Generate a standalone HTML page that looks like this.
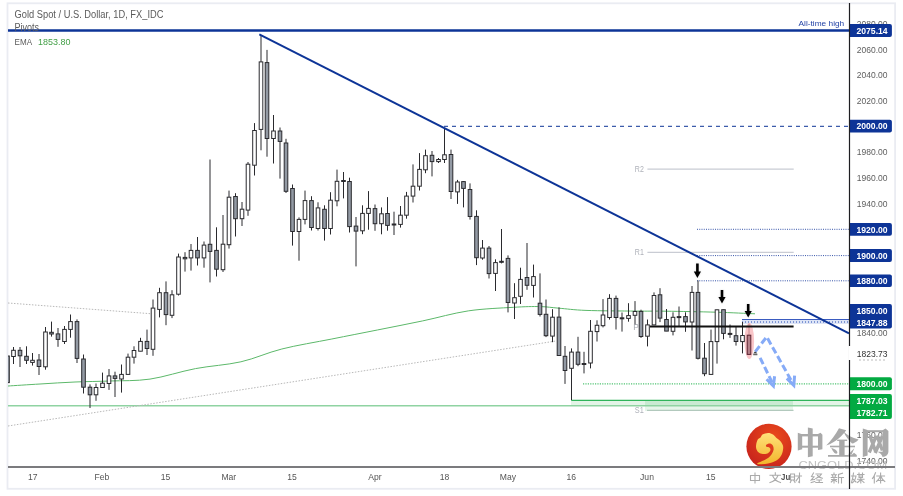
<!DOCTYPE html><html><head><meta charset="utf-8"><style>html,body{margin:0;padding:0;background:#fff;}svg{display:block;will-change:transform;}</style></head><body>
<svg width="903" height="496" viewBox="0 0 903 496" font-family='"Liberation Sans", sans-serif'>
<defs><clipPath id="ca"><rect x="8" y="4" width="841" height="462"/></clipPath><filter id="sh" x="-1" y="-1" width="3" height="3"><feGaussianBlur stdDeviation="1.2"/></filter><radialGradient id="rg" cx="0.6" cy="0.3" r="0.8"><stop offset="0" stop-color="#ea4a1c"/><stop offset="1" stop-color="#c41f1c"/></radialGradient><linearGradient id="yg" x1="0" y1="0" x2="0" y2="1"><stop offset="0" stop-color="#ffe27a"/><stop offset="1" stop-color="#f3b52c"/></linearGradient></defs>
<rect x="7.5" y="3.3" width="887.6" height="485.5" fill="none" stroke="#eaecf2" stroke-width="1.8"/>
<g clip-path="url(#ca)">
<rect x="571" y="400.5" width="278" height="5" fill="#e3f4e7"/>
<rect x="645" y="400.5" width="148" height="6" fill="#c9ead2"/>
<rect x="645" y="406" width="148" height="5" fill="#e6f5ea"/>
<line x1="647" y1="410.3" x2="793.5" y2="410.3" stroke="#b2c9bd" stroke-width="1.2"/>
<line x1="8" y1="405.8" x2="849" y2="405.8" stroke="#8fd3a2" stroke-width="1.5"/>
<line x1="571.3" y1="400.3" x2="849" y2="400.3" stroke="#2fb45a" stroke-width="1.2"/>
<line x1="583" y1="383.8" x2="849" y2="383.8" stroke="#52c474" stroke-width="1.2" stroke-dasharray="1.2 1.2"/>
<line x1="8" y1="303" x2="152" y2="313.8" stroke="#b8b8b8" stroke-width="1" stroke-dasharray="1.5 1.5"/>
<line x1="8" y1="426" x2="556" y2="341" stroke="#b8b8b8" stroke-width="1" stroke-dasharray="1.5 1.5"/>
<line x1="647.4" y1="169.1" x2="793.7" y2="169.1" stroke="#c9ccd4" stroke-width="1.2"/>
<line x1="647.4" y1="252.4" x2="793.7" y2="252.4" stroke="#c9ccd4" stroke-width="1.2"/>
<line x1="697" y1="229.3" x2="849" y2="229.3" stroke="#3553a8" stroke-width="1" stroke-dasharray="1 1.25"/>
<line x1="697" y1="255.6" x2="849" y2="255.6" stroke="#3553a8" stroke-width="1" stroke-dasharray="1 1.25"/>
<line x1="697" y1="280.8" x2="849" y2="280.8" stroke="#3553a8" stroke-width="1" stroke-dasharray="1 1.25"/>
<line x1="444" y1="126.3" x2="849" y2="126.3" stroke="#0d3497" stroke-width="1" stroke-dasharray="4 4"/>
<path d="M8,386 C13.33,385.67 28.83,384.67 40,384 C51.17,383.33 63.33,382.50 75,382 C86.67,381.50 97.50,381.48 110,381 C122.50,380.52 135.75,381.17 150,379.1 C164.25,377.03 180.35,371.48 195.5,368.6 C210.65,365.72 226.52,365.07 240.9,361.8 C255.28,358.53 266.65,352.80 281.8,349 C296.95,345.20 315.88,342.17 331.8,339 C347.72,335.83 362.15,333.02 377.3,330 C392.45,326.98 407.55,324.08 422.7,320.9 C437.85,317.72 453.05,313.17 468.2,310.9 C483.35,308.63 501.63,308.02 513.6,307.3 C525.57,306.58 532.43,306.45 540,306.6 C547.57,306.75 551.33,307.57 559,308.2 C566.67,308.83 573.17,309.92 586,310.4 C598.83,310.88 622.67,310.97 636,311.1 C649.33,311.23 652.67,311.02 666,311.2 C679.33,311.38 701.17,311.77 716,312.2 C730.83,312.63 748.50,313.53 755,313.8" fill="none" stroke="#5cb86a" stroke-width="1"/>
<rect x="742" y="320" width="107" height="4" fill="#dde4f6"/>
<line x1="742" y1="322" x2="849" y2="322" stroke="#5f7cc9" stroke-width="1.5" stroke-dasharray="1 2"/>
<line x1="742" y1="319.5" x2="849" y2="319.5" stroke="#3a5bc0" stroke-width="1"/>
<ellipse cx="749.3" cy="341" rx="4.8" ry="17.9" fill="#f9c5c8"/>
<line x1="7.5" y1="352.0" x2="7.5" y2="386.0" stroke="#2a2a2e" stroke-width="1"/>
<rect x="5.7" y="356.0" width="3.6" height="26.600000000000023" fill="#939aa4" stroke="#2a2a2e" stroke-width="1"/>
<line x1="13.5" y1="347.0" x2="13.5" y2="364.0" stroke="#2a2a2e" stroke-width="1"/>
<rect x="11.7" y="350.3" width="3.6" height="6.199999999999989" fill="#ffffff" stroke="#2a2a2e" stroke-width="1"/>
<line x1="20.0" y1="347.0" x2="20.0" y2="367.0" stroke="#2a2a2e" stroke-width="1"/>
<rect x="18.2" y="350.3" width="3.6" height="5.5" fill="#939aa4" stroke="#2a2a2e" stroke-width="1"/>
<line x1="26.5" y1="346.3" x2="26.5" y2="364.0" stroke="#2a2a2e" stroke-width="1"/>
<rect x="24.7" y="356.3" width="3.6" height="4.0" fill="#939aa4" stroke="#2a2a2e" stroke-width="1"/>
<line x1="32.5" y1="353.0" x2="32.5" y2="365.6" stroke="#2a2a2e" stroke-width="1"/>
<rect x="30.7" y="360.3" width="3.6" height="2.099999999999966" fill="#ffffff" stroke="#2a2a2e" stroke-width="1"/>
<line x1="39.0" y1="354.0" x2="39.0" y2="375.0" stroke="#2a2a2e" stroke-width="1"/>
<rect x="37.2" y="360.0" width="3.6" height="6.5" fill="#939aa4" stroke="#2a2a2e" stroke-width="1"/>
<line x1="45.5" y1="327.0" x2="45.5" y2="369.7" stroke="#2a2a2e" stroke-width="1"/>
<rect x="43.7" y="332.0" width="3.6" height="34.80000000000001" fill="#ffffff" stroke="#2a2a2e" stroke-width="1"/>
<line x1="51.5" y1="321.6" x2="51.5" y2="336.6" stroke="#2a2a2e" stroke-width="1"/>
<rect x="49.7" y="332.3" width="3.6" height="1.6999999999999886" fill="#939aa4" stroke="#2a2a2e" stroke-width="1"/>
<line x1="58.0" y1="328.0" x2="58.0" y2="346.8" stroke="#2a2a2e" stroke-width="1"/>
<rect x="56.2" y="333.9" width="3.6" height="5.5" fill="#939aa4" stroke="#2a2a2e" stroke-width="1"/>
<line x1="64.5" y1="326.0" x2="64.5" y2="344.0" stroke="#2a2a2e" stroke-width="1"/>
<rect x="62.7" y="329.4" width="3.6" height="12.100000000000023" fill="#ffffff" stroke="#2a2a2e" stroke-width="1"/>
<line x1="70.5" y1="314.5" x2="70.5" y2="337.7" stroke="#2a2a2e" stroke-width="1"/>
<rect x="68.7" y="321.6" width="3.6" height="7.7999999999999545" fill="#ffffff" stroke="#2a2a2e" stroke-width="1"/>
<line x1="77.0" y1="319.4" x2="77.0" y2="363.0" stroke="#2a2a2e" stroke-width="1"/>
<rect x="75.2" y="321.6" width="3.6" height="36.799999999999955" fill="#939aa4" stroke="#2a2a2e" stroke-width="1"/>
<line x1="83.5" y1="354.5" x2="83.5" y2="393.5" stroke="#2a2a2e" stroke-width="1"/>
<rect x="81.7" y="359.0" width="3.6" height="28.19999999999999" fill="#939aa4" stroke="#2a2a2e" stroke-width="1"/>
<line x1="90.0" y1="384.4" x2="90.0" y2="408.0" stroke="#2a2a2e" stroke-width="1"/>
<rect x="88.2" y="387.2" width="3.6" height="7.600000000000023" fill="#939aa4" stroke="#2a2a2e" stroke-width="1"/>
<line x1="96.0" y1="383.5" x2="96.0" y2="400.8" stroke="#2a2a2e" stroke-width="1"/>
<rect x="94.2" y="387.5" width="3.6" height="7.300000000000011" fill="#ffffff" stroke="#2a2a2e" stroke-width="1"/>
<line x1="102.5" y1="372.6" x2="102.5" y2="388.0" stroke="#2a2a2e" stroke-width="1"/>
<rect x="100.7" y="383.2" width="3.6" height="4.300000000000011" fill="#ffffff" stroke="#2a2a2e" stroke-width="1"/>
<line x1="109.0" y1="369.0" x2="109.0" y2="389.9" stroke="#2a2a2e" stroke-width="1"/>
<rect x="107.2" y="375.9" width="3.6" height="7.600000000000023" fill="#ffffff" stroke="#2a2a2e" stroke-width="1"/>
<line x1="115.0" y1="371.7" x2="115.0" y2="397.0" stroke="#2a2a2e" stroke-width="1"/>
<rect x="113.2" y="375.9" width="3.6" height="2.5" fill="#939aa4" stroke="#2a2a2e" stroke-width="1"/>
<line x1="121.5" y1="364.5" x2="121.5" y2="392.6" stroke="#2a2a2e" stroke-width="1"/>
<rect x="119.7" y="374.4" width="3.6" height="4.600000000000023" fill="#ffffff" stroke="#2a2a2e" stroke-width="1"/>
<line x1="128.0" y1="353.6" x2="128.0" y2="374.4" stroke="#2a2a2e" stroke-width="1"/>
<rect x="126.2" y="357.2" width="3.6" height="17.19999999999999" fill="#ffffff" stroke="#2a2a2e" stroke-width="1"/>
<line x1="134.0" y1="346.3" x2="134.0" y2="363.6" stroke="#2a2a2e" stroke-width="1"/>
<rect x="132.2" y="350.5" width="3.6" height="6.699999999999989" fill="#ffffff" stroke="#2a2a2e" stroke-width="1"/>
<line x1="140.5" y1="337.8" x2="140.5" y2="351.2" stroke="#2a2a2e" stroke-width="1"/>
<rect x="138.7" y="341.4" width="3.6" height="9.800000000000011" fill="#ffffff" stroke="#2a2a2e" stroke-width="1"/>
<line x1="147.0" y1="329.6" x2="147.0" y2="355.0" stroke="#2a2a2e" stroke-width="1"/>
<rect x="145.2" y="341.4" width="3.6" height="7.100000000000023" fill="#939aa4" stroke="#2a2a2e" stroke-width="1"/>
<line x1="153.0" y1="299.5" x2="153.0" y2="355.8" stroke="#2a2a2e" stroke-width="1"/>
<rect x="151.2" y="308.1" width="3.6" height="41.19999999999999" fill="#ffffff" stroke="#2a2a2e" stroke-width="1"/>
<line x1="159.5" y1="287.8" x2="159.5" y2="317.4" stroke="#2a2a2e" stroke-width="1"/>
<rect x="157.7" y="292.7" width="3.6" height="16.69999999999999" fill="#ffffff" stroke="#2a2a2e" stroke-width="1"/>
<line x1="166.0" y1="281.4" x2="166.0" y2="325.2" stroke="#2a2a2e" stroke-width="1"/>
<rect x="164.2" y="292.7" width="3.6" height="21.900000000000034" fill="#939aa4" stroke="#2a2a2e" stroke-width="1"/>
<line x1="172.0" y1="290.2" x2="172.0" y2="318.1" stroke="#2a2a2e" stroke-width="1"/>
<rect x="170.2" y="294.8" width="3.6" height="20.5" fill="#ffffff" stroke="#2a2a2e" stroke-width="1"/>
<line x1="178.5" y1="253.6" x2="178.5" y2="295.5" stroke="#2a2a2e" stroke-width="1"/>
<rect x="176.7" y="257.0" width="3.6" height="37.19999999999999" fill="#ffffff" stroke="#2a2a2e" stroke-width="1"/>
<line x1="185.0" y1="252.2" x2="185.0" y2="271.6" stroke="#2a2a2e" stroke-width="1"/>
<rect x="183.2" y="257.4" width="3.6" height="1.400000000000034" fill="#939aa4" stroke="#2a2a2e" stroke-width="1"/>
<line x1="191.0" y1="244.0" x2="191.0" y2="270.6" stroke="#2a2a2e" stroke-width="1"/>
<rect x="189.2" y="250.4" width="3.6" height="7.499999999999972" fill="#ffffff" stroke="#2a2a2e" stroke-width="1"/>
<line x1="197.5" y1="237.0" x2="197.5" y2="265.5" stroke="#2a2a2e" stroke-width="1"/>
<rect x="195.7" y="250.4" width="3.6" height="7.499999999999972" fill="#939aa4" stroke="#2a2a2e" stroke-width="1"/>
<line x1="204.0" y1="241.5" x2="204.0" y2="267.7" stroke="#2a2a2e" stroke-width="1"/>
<rect x="202.2" y="245.1" width="3.6" height="12.799999999999983" fill="#ffffff" stroke="#2a2a2e" stroke-width="1"/>
<line x1="210.0" y1="159.5" x2="210.0" y2="282.4" stroke="#2a2a2e" stroke-width="1"/>
<rect x="208.2" y="244.3" width="3.6" height="7.099999999999994" fill="#939aa4" stroke="#2a2a2e" stroke-width="1"/>
<line x1="216.5" y1="227.3" x2="216.5" y2="276.5" stroke="#2a2a2e" stroke-width="1"/>
<rect x="214.7" y="250.4" width="3.6" height="18.799999999999983" fill="#939aa4" stroke="#2a2a2e" stroke-width="1"/>
<line x1="223.0" y1="215.0" x2="223.0" y2="272.0" stroke="#2a2a2e" stroke-width="1"/>
<rect x="221.2" y="244.2" width="3.6" height="25.5" fill="#ffffff" stroke="#2a2a2e" stroke-width="1"/>
<line x1="229.0" y1="190.6" x2="229.0" y2="248.6" stroke="#2a2a2e" stroke-width="1"/>
<rect x="227.2" y="197.2" width="3.6" height="47.5" fill="#ffffff" stroke="#2a2a2e" stroke-width="1"/>
<line x1="235.5" y1="193.2" x2="235.5" y2="236.5" stroke="#2a2a2e" stroke-width="1"/>
<rect x="233.7" y="196.5" width="3.6" height="22.19999999999999" fill="#939aa4" stroke="#2a2a2e" stroke-width="1"/>
<line x1="242.0" y1="202.0" x2="242.0" y2="226.0" stroke="#2a2a2e" stroke-width="1"/>
<rect x="240.2" y="209.2" width="3.6" height="9.5" fill="#ffffff" stroke="#2a2a2e" stroke-width="1"/>
<line x1="248.0" y1="162.0" x2="248.0" y2="215.8" stroke="#2a2a2e" stroke-width="1"/>
<rect x="246.2" y="164.2" width="3.6" height="45.900000000000006" fill="#ffffff" stroke="#2a2a2e" stroke-width="1"/>
<line x1="254.5" y1="123.1" x2="254.5" y2="175.5" stroke="#2a2a2e" stroke-width="1"/>
<rect x="252.7" y="130.5" width="3.6" height="34.69999999999999" fill="#ffffff" stroke="#2a2a2e" stroke-width="1"/>
<line x1="261.0" y1="35.0" x2="261.0" y2="150.3" stroke="#2a2a2e" stroke-width="1"/>
<rect x="259.2" y="61.9" width="3.6" height="67.5" fill="#ffffff" stroke="#2a2a2e" stroke-width="1"/>
<line x1="267.0" y1="49.9" x2="267.0" y2="156.7" stroke="#2a2a2e" stroke-width="1"/>
<rect x="265.2" y="62.6" width="3.6" height="75.9" fill="#939aa4" stroke="#2a2a2e" stroke-width="1"/>
<line x1="273.5" y1="115.0" x2="273.5" y2="163.5" stroke="#2a2a2e" stroke-width="1"/>
<rect x="271.7" y="131.0" width="3.6" height="7.5" fill="#ffffff" stroke="#2a2a2e" stroke-width="1"/>
<line x1="280.0" y1="127.5" x2="280.0" y2="178.6" stroke="#2a2a2e" stroke-width="1"/>
<rect x="278.2" y="131.0" width="3.6" height="10.400000000000006" fill="#939aa4" stroke="#2a2a2e" stroke-width="1"/>
<line x1="286.0" y1="138.8" x2="286.0" y2="193.0" stroke="#2a2a2e" stroke-width="1"/>
<rect x="284.2" y="143.0" width="3.6" height="48.30000000000001" fill="#939aa4" stroke="#2a2a2e" stroke-width="1"/>
<line x1="292.5" y1="184.5" x2="292.5" y2="245.6" stroke="#2a2a2e" stroke-width="1"/>
<rect x="290.7" y="188.5" width="3.6" height="43.0" fill="#939aa4" stroke="#2a2a2e" stroke-width="1"/>
<line x1="299.0" y1="217.4" x2="299.0" y2="260.7" stroke="#2a2a2e" stroke-width="1"/>
<rect x="297.2" y="219.4" width="3.6" height="12.099999999999994" fill="#ffffff" stroke="#2a2a2e" stroke-width="1"/>
<line x1="305.0" y1="190.6" x2="305.0" y2="224.4" stroke="#2a2a2e" stroke-width="1"/>
<rect x="303.2" y="200.6" width="3.6" height="18.80000000000001" fill="#ffffff" stroke="#2a2a2e" stroke-width="1"/>
<line x1="311.5" y1="196.2" x2="311.5" y2="230.5" stroke="#2a2a2e" stroke-width="1"/>
<rect x="309.7" y="200.6" width="3.6" height="26.900000000000006" fill="#939aa4" stroke="#2a2a2e" stroke-width="1"/>
<line x1="318.0" y1="202.3" x2="318.0" y2="230.5" stroke="#2a2a2e" stroke-width="1"/>
<rect x="316.2" y="207.9" width="3.6" height="20.599999999999994" fill="#ffffff" stroke="#2a2a2e" stroke-width="1"/>
<line x1="324.5" y1="205.3" x2="324.5" y2="240.6" stroke="#2a2a2e" stroke-width="1"/>
<rect x="322.7" y="209.3" width="3.6" height="19.19999999999999" fill="#939aa4" stroke="#2a2a2e" stroke-width="1"/>
<line x1="330.5" y1="192.2" x2="330.5" y2="234.5" stroke="#2a2a2e" stroke-width="1"/>
<rect x="328.7" y="200.2" width="3.6" height="28.30000000000001" fill="#ffffff" stroke="#2a2a2e" stroke-width="1"/>
<line x1="337.0" y1="169.6" x2="337.0" y2="206.3" stroke="#2a2a2e" stroke-width="1"/>
<rect x="335.2" y="181.3" width="3.6" height="19.5" fill="#ffffff" stroke="#2a2a2e" stroke-width="1"/>
<line x1="343.5" y1="172.0" x2="343.5" y2="198.4" stroke="#2a2a2e" stroke-width="1"/>
<rect x="341.7" y="180.5" width="3.6" height="1.0" fill="#939aa4" stroke="#2a2a2e" stroke-width="1"/>
<line x1="349.5" y1="177.7" x2="349.5" y2="232.5" stroke="#2a2a2e" stroke-width="1"/>
<rect x="347.7" y="181.5" width="3.6" height="45.099999999999994" fill="#939aa4" stroke="#2a2a2e" stroke-width="1"/>
<line x1="356.0" y1="217.0" x2="356.0" y2="266.4" stroke="#2a2a2e" stroke-width="1"/>
<rect x="354.2" y="226.1" width="3.6" height="5.0" fill="#939aa4" stroke="#2a2a2e" stroke-width="1"/>
<line x1="362.5" y1="205.3" x2="362.5" y2="234.2" stroke="#2a2a2e" stroke-width="1"/>
<rect x="360.7" y="213.4" width="3.6" height="17.400000000000006" fill="#ffffff" stroke="#2a2a2e" stroke-width="1"/>
<line x1="368.5" y1="191.1" x2="368.5" y2="229.7" stroke="#2a2a2e" stroke-width="1"/>
<rect x="366.7" y="208.4" width="3.6" height="5.0" fill="#ffffff" stroke="#2a2a2e" stroke-width="1"/>
<line x1="375.0" y1="204.5" x2="375.0" y2="230.8" stroke="#2a2a2e" stroke-width="1"/>
<rect x="373.2" y="208.6" width="3.6" height="15.099999999999994" fill="#939aa4" stroke="#2a2a2e" stroke-width="1"/>
<line x1="381.5" y1="207.4" x2="381.5" y2="234.3" stroke="#2a2a2e" stroke-width="1"/>
<rect x="379.7" y="213.8" width="3.6" height="9.899999999999977" fill="#ffffff" stroke="#2a2a2e" stroke-width="1"/>
<line x1="387.5" y1="197.1" x2="387.5" y2="230.7" stroke="#2a2a2e" stroke-width="1"/>
<rect x="385.7" y="213.5" width="3.6" height="11.900000000000006" fill="#939aa4" stroke="#2a2a2e" stroke-width="1"/>
<line x1="394.0" y1="211.7" x2="394.0" y2="235.0" stroke="#2a2a2e" stroke-width="1"/>
<rect x="392.2" y="224.0" width="3.6" height="1.0" fill="#939aa4" stroke="#2a2a2e" stroke-width="1"/>
<line x1="400.5" y1="206.0" x2="400.5" y2="227.6" stroke="#2a2a2e" stroke-width="1"/>
<rect x="398.7" y="215.2" width="3.6" height="9.200000000000017" fill="#ffffff" stroke="#2a2a2e" stroke-width="1"/>
<line x1="406.5" y1="191.9" x2="406.5" y2="218.7" stroke="#2a2a2e" stroke-width="1"/>
<rect x="404.7" y="196.1" width="3.6" height="19.099999999999994" fill="#ffffff" stroke="#2a2a2e" stroke-width="1"/>
<line x1="413.0" y1="164.4" x2="413.0" y2="202.5" stroke="#2a2a2e" stroke-width="1"/>
<rect x="411.2" y="186.2" width="3.6" height="9.900000000000006" fill="#ffffff" stroke="#2a2a2e" stroke-width="1"/>
<line x1="419.5" y1="153.1" x2="419.5" y2="190.5" stroke="#2a2a2e" stroke-width="1"/>
<rect x="417.7" y="169.4" width="3.6" height="16.799999999999983" fill="#ffffff" stroke="#2a2a2e" stroke-width="1"/>
<line x1="425.5" y1="149.6" x2="425.5" y2="173.2" stroke="#2a2a2e" stroke-width="1"/>
<rect x="423.7" y="155.7" width="3.6" height="14.100000000000023" fill="#ffffff" stroke="#2a2a2e" stroke-width="1"/>
<line x1="432.0" y1="151.0" x2="432.0" y2="176.4" stroke="#2a2a2e" stroke-width="1"/>
<rect x="430.2" y="155.3" width="3.6" height="6.299999999999983" fill="#939aa4" stroke="#2a2a2e" stroke-width="1"/>
<line x1="438.5" y1="158.0" x2="438.5" y2="163.0" stroke="#2a2a2e" stroke-width="1"/>
<rect x="436.7" y="159.5" width="3.6" height="2.0999999999999943" fill="#ffffff" stroke="#2a2a2e" stroke-width="1"/>
<line x1="444.5" y1="128.4" x2="444.5" y2="163.0" stroke="#2a2a2e" stroke-width="1"/>
<rect x="442.7" y="154.8" width="3.6" height="4.699999999999989" fill="#ffffff" stroke="#2a2a2e" stroke-width="1"/>
<line x1="451.0" y1="149.6" x2="451.0" y2="199.0" stroke="#2a2a2e" stroke-width="1"/>
<rect x="449.2" y="154.5" width="3.6" height="37.0" fill="#939aa4" stroke="#2a2a2e" stroke-width="1"/>
<line x1="457.5" y1="179.9" x2="457.5" y2="203.9" stroke="#2a2a2e" stroke-width="1"/>
<rect x="455.7" y="182.0" width="3.6" height="9.900000000000006" fill="#ffffff" stroke="#2a2a2e" stroke-width="1"/>
<line x1="463.5" y1="181.0" x2="463.5" y2="207.4" stroke="#2a2a2e" stroke-width="1"/>
<rect x="461.7" y="181.6" width="3.6" height="6.800000000000011" fill="#939aa4" stroke="#2a2a2e" stroke-width="1"/>
<line x1="470.0" y1="183.4" x2="470.0" y2="219.6" stroke="#2a2a2e" stroke-width="1"/>
<rect x="468.2" y="189.5" width="3.6" height="27.0" fill="#939aa4" stroke="#2a2a2e" stroke-width="1"/>
<line x1="476.5" y1="210.3" x2="476.5" y2="265.1" stroke="#2a2a2e" stroke-width="1"/>
<rect x="474.7" y="216.4" width="3.6" height="41.29999999999998" fill="#939aa4" stroke="#2a2a2e" stroke-width="1"/>
<line x1="482.5" y1="240.0" x2="482.5" y2="259.7" stroke="#2a2a2e" stroke-width="1"/>
<rect x="480.7" y="248.1" width="3.6" height="9.900000000000006" fill="#ffffff" stroke="#2a2a2e" stroke-width="1"/>
<line x1="489.0" y1="246.0" x2="489.0" y2="278.5" stroke="#2a2a2e" stroke-width="1"/>
<rect x="487.2" y="248.1" width="3.6" height="25.50000000000003" fill="#939aa4" stroke="#2a2a2e" stroke-width="1"/>
<line x1="495.5" y1="259.3" x2="495.5" y2="291.0" stroke="#2a2a2e" stroke-width="1"/>
<rect x="493.7" y="262.6" width="3.6" height="10.799999999999955" fill="#ffffff" stroke="#2a2a2e" stroke-width="1"/>
<line x1="501.5" y1="229.0" x2="501.5" y2="263.4" stroke="#2a2a2e" stroke-width="1"/>
<rect x="499.7" y="261.3" width="3.6" height="1.0" fill="#939aa4" stroke="#2a2a2e" stroke-width="1"/>
<line x1="508.0" y1="255.4" x2="508.0" y2="312.4" stroke="#2a2a2e" stroke-width="1"/>
<rect x="506.2" y="258.4" width="3.6" height="44.10000000000002" fill="#939aa4" stroke="#2a2a2e" stroke-width="1"/>
<line x1="514.5" y1="283.2" x2="514.5" y2="319.0" stroke="#2a2a2e" stroke-width="1"/>
<rect x="512.7" y="297.7" width="3.6" height="5.300000000000011" fill="#ffffff" stroke="#2a2a2e" stroke-width="1"/>
<line x1="520.5" y1="267.7" x2="520.5" y2="304.0" stroke="#2a2a2e" stroke-width="1"/>
<rect x="518.7" y="279.4" width="3.6" height="16.900000000000034" fill="#ffffff" stroke="#2a2a2e" stroke-width="1"/>
<line x1="527.0" y1="243.0" x2="527.0" y2="289.8" stroke="#2a2a2e" stroke-width="1"/>
<rect x="525.2" y="277.5" width="3.6" height="7.800000000000011" fill="#939aa4" stroke="#2a2a2e" stroke-width="1"/>
<line x1="533.5" y1="264.6" x2="533.5" y2="297.5" stroke="#2a2a2e" stroke-width="1"/>
<rect x="531.7" y="276.6" width="3.6" height="8.799999999999955" fill="#ffffff" stroke="#2a2a2e" stroke-width="1"/>
<line x1="540.0" y1="273.4" x2="540.0" y2="316.5" stroke="#2a2a2e" stroke-width="1"/>
<rect x="538.2" y="303.2" width="3.6" height="11.199999999999989" fill="#939aa4" stroke="#2a2a2e" stroke-width="1"/>
<line x1="546.0" y1="299.5" x2="546.0" y2="337.1" stroke="#2a2a2e" stroke-width="1"/>
<rect x="544.2" y="314.3" width="3.6" height="21.399999999999977" fill="#939aa4" stroke="#2a2a2e" stroke-width="1"/>
<line x1="552.5" y1="309.2" x2="552.5" y2="342.2" stroke="#2a2a2e" stroke-width="1"/>
<rect x="550.7" y="317.2" width="3.6" height="18.900000000000034" fill="#ffffff" stroke="#2a2a2e" stroke-width="1"/>
<line x1="559.0" y1="307.3" x2="559.0" y2="355.5" stroke="#2a2a2e" stroke-width="1"/>
<rect x="557.2" y="317.1" width="3.6" height="38.39999999999998" fill="#939aa4" stroke="#2a2a2e" stroke-width="1"/>
<line x1="565.0" y1="346.0" x2="565.0" y2="383.9" stroke="#2a2a2e" stroke-width="1"/>
<rect x="563.2" y="356.3" width="3.6" height="14.199999999999989" fill="#939aa4" stroke="#2a2a2e" stroke-width="1"/>
<line x1="571.5" y1="348.4" x2="571.5" y2="400.1" stroke="#2a2a2e" stroke-width="1"/>
<rect x="569.7" y="352.1" width="3.6" height="16.19999999999999" fill="#ffffff" stroke="#2a2a2e" stroke-width="1"/>
<line x1="578.0" y1="336.8" x2="578.0" y2="366.2" stroke="#2a2a2e" stroke-width="1"/>
<rect x="576.2" y="352.1" width="3.6" height="12.199999999999989" fill="#939aa4" stroke="#2a2a2e" stroke-width="1"/>
<line x1="584.0" y1="351.8" x2="584.0" y2="373.4" stroke="#2a2a2e" stroke-width="1"/>
<rect x="582.2" y="363.5" width="3.6" height="1.0" fill="#939aa4" stroke="#2a2a2e" stroke-width="1"/>
<line x1="590.5" y1="320.0" x2="590.5" y2="368.4" stroke="#2a2a2e" stroke-width="1"/>
<rect x="588.7" y="331.3" width="3.6" height="31.69999999999999" fill="#ffffff" stroke="#2a2a2e" stroke-width="1"/>
<line x1="597.0" y1="320.3" x2="597.0" y2="341.5" stroke="#2a2a2e" stroke-width="1"/>
<rect x="595.2" y="325.3" width="3.6" height="6.300000000000011" fill="#ffffff" stroke="#2a2a2e" stroke-width="1"/>
<line x1="603.0" y1="299.1" x2="603.0" y2="327.4" stroke="#2a2a2e" stroke-width="1"/>
<rect x="601.2" y="315.0" width="3.6" height="10.699999999999989" fill="#ffffff" stroke="#2a2a2e" stroke-width="1"/>
<line x1="609.5" y1="294.2" x2="609.5" y2="319.6" stroke="#2a2a2e" stroke-width="1"/>
<rect x="607.7" y="298.4" width="3.6" height="19.100000000000023" fill="#ffffff" stroke="#2a2a2e" stroke-width="1"/>
<line x1="616.0" y1="295.6" x2="616.0" y2="329.5" stroke="#2a2a2e" stroke-width="1"/>
<rect x="614.2" y="298.4" width="3.6" height="19.100000000000023" fill="#939aa4" stroke="#2a2a2e" stroke-width="1"/>
<line x1="622.0" y1="312.5" x2="622.0" y2="331.6" stroke="#2a2a2e" stroke-width="1"/>
<rect x="620.2" y="317.8" width="3.6" height="1.0" fill="#939aa4" stroke="#2a2a2e" stroke-width="1"/>
<line x1="628.5" y1="303.2" x2="628.5" y2="321.7" stroke="#2a2a2e" stroke-width="1"/>
<rect x="626.7" y="315.6" width="3.6" height="2.7999999999999545" fill="#ffffff" stroke="#2a2a2e" stroke-width="1"/>
<line x1="635.0" y1="301.1" x2="635.0" y2="325.0" stroke="#2a2a2e" stroke-width="1"/>
<rect x="633.2" y="311.5" width="3.6" height="3.8000000000000114" fill="#ffffff" stroke="#2a2a2e" stroke-width="1"/>
<line x1="641.0" y1="309.7" x2="641.0" y2="337.9" stroke="#2a2a2e" stroke-width="1"/>
<rect x="639.2" y="311.4" width="3.6" height="25.100000000000023" fill="#939aa4" stroke="#2a2a2e" stroke-width="1"/>
<line x1="647.5" y1="319.5" x2="647.5" y2="346.4" stroke="#2a2a2e" stroke-width="1"/>
<rect x="645.7" y="324.9" width="3.6" height="11.300000000000011" fill="#ffffff" stroke="#2a2a2e" stroke-width="1"/>
<line x1="654.0" y1="292.4" x2="654.0" y2="324.9" stroke="#2a2a2e" stroke-width="1"/>
<rect x="652.2" y="295.5" width="3.6" height="29.399999999999977" fill="#ffffff" stroke="#2a2a2e" stroke-width="1"/>
<line x1="660.0" y1="288.2" x2="660.0" y2="322.1" stroke="#2a2a2e" stroke-width="1"/>
<rect x="658.2" y="294.8" width="3.6" height="23.30000000000001" fill="#939aa4" stroke="#2a2a2e" stroke-width="1"/>
<line x1="666.5" y1="309.0" x2="666.5" y2="331.1" stroke="#2a2a2e" stroke-width="1"/>
<rect x="664.7" y="319.5" width="3.6" height="11.600000000000023" fill="#939aa4" stroke="#2a2a2e" stroke-width="1"/>
<line x1="673.0" y1="312.3" x2="673.0" y2="335.4" stroke="#2a2a2e" stroke-width="1"/>
<rect x="671.2" y="317.3" width="3.6" height="14.0" fill="#ffffff" stroke="#2a2a2e" stroke-width="1"/>
<line x1="679.0" y1="306.5" x2="679.0" y2="326.1" stroke="#2a2a2e" stroke-width="1"/>
<rect x="677.2" y="316.6" width="3.6" height="1.0" fill="#939aa4" stroke="#2a2a2e" stroke-width="1"/>
<line x1="685.5" y1="312.3" x2="685.5" y2="331.8" stroke="#2a2a2e" stroke-width="1"/>
<rect x="683.7" y="316.6" width="3.6" height="5.2999999999999545" fill="#939aa4" stroke="#2a2a2e" stroke-width="1"/>
<line x1="692.0" y1="286.0" x2="692.0" y2="350.5" stroke="#2a2a2e" stroke-width="1"/>
<rect x="690.2" y="292.4" width="3.6" height="29.600000000000023" fill="#ffffff" stroke="#2a2a2e" stroke-width="1"/>
<line x1="698.0" y1="280.4" x2="698.0" y2="359.5" stroke="#2a2a2e" stroke-width="1"/>
<rect x="696.2" y="292.4" width="3.6" height="65.90000000000003" fill="#939aa4" stroke="#2a2a2e" stroke-width="1"/>
<line x1="704.5" y1="343.0" x2="704.5" y2="376.2" stroke="#2a2a2e" stroke-width="1"/>
<rect x="702.7" y="358.2" width="3.6" height="15.5" fill="#939aa4" stroke="#2a2a2e" stroke-width="1"/>
<line x1="711.0" y1="329.6" x2="711.0" y2="374.4" stroke="#2a2a2e" stroke-width="1"/>
<rect x="709.2" y="341.6" width="3.6" height="32.799999999999955" fill="#ffffff" stroke="#2a2a2e" stroke-width="1"/>
<line x1="717.0" y1="309.7" x2="717.0" y2="363.6" stroke="#2a2a2e" stroke-width="1"/>
<rect x="715.2" y="309.8" width="3.6" height="31.80000000000001" fill="#ffffff" stroke="#2a2a2e" stroke-width="1"/>
<line x1="723.5" y1="309.7" x2="723.5" y2="339.3" stroke="#2a2a2e" stroke-width="1"/>
<rect x="721.7" y="309.7" width="3.6" height="23.69999999999999" fill="#939aa4" stroke="#2a2a2e" stroke-width="1"/>
<line x1="730.0" y1="324.5" x2="730.0" y2="337.9" stroke="#2a2a2e" stroke-width="1"/>
<rect x="728.2" y="333.4" width="3.6" height="1.0" fill="#939aa4" stroke="#2a2a2e" stroke-width="1"/>
<line x1="736.0" y1="326.3" x2="736.0" y2="345.6" stroke="#2a2a2e" stroke-width="1"/>
<rect x="734.2" y="335.7" width="3.6" height="5.800000000000011" fill="#939aa4" stroke="#2a2a2e" stroke-width="1"/>
<line x1="742.5" y1="322.0" x2="742.5" y2="353.4" stroke="#2a2a2e" stroke-width="1"/>
<rect x="740.7" y="335.5" width="3.6" height="6.100000000000023" fill="#ffffff" stroke="#2a2a2e" stroke-width="1"/>
<line x1="749.0" y1="323.5" x2="749.0" y2="335.2" stroke="#c98b90" stroke-width="1"/>
<rect x="747.2" y="335.2" width="3.6" height="19.19999999999999" fill="#b3818a" stroke="#5a2330" stroke-width="1"/>
<line x1="650" y1="326.4" x2="793.6" y2="326.4" stroke="#111" stroke-width="2"/>
<line x1="8" y1="30.5" x2="849" y2="30.5" stroke="#0d3497" stroke-width="2.4"/>
<line x1="259.3" y1="34.4" x2="849" y2="333.3" stroke="#0d3497" stroke-width="2"/>
<g><path d="M696.1,263.4 h2.6 v8.0 h2.3 L697.4,277.9 L693.8,271.4 h2.3 z" fill="#999" opacity="0.35" filter="url(#sh)"/><path d="M696.1,263.4 h2.6 v8.0 h2.3 L697.4,277.9 L693.8,271.4 h2.3 z" fill="#000"/></g>
<g><path d="M720.7,289.9 h2.6 v7.100000000000023 h2.3 L722,303.5 L718.4,297.0 h2.3 z" fill="#999" opacity="0.35" filter="url(#sh)"/><path d="M720.7,289.9 h2.6 v7.100000000000023 h2.3 L722,303.5 L718.4,297.0 h2.3 z" fill="#000"/></g>
<g><path d="M746.9000000000001,304 h2.6 v7.100000000000023 h2.3 L748.2,317.6 L744.6,311.1 h2.3 z" fill="#999" opacity="0.35" filter="url(#sh)"/><path d="M746.9000000000001,304 h2.6 v7.100000000000023 h2.3 L748.2,317.6 L744.6,311.1 h2.3 z" fill="#000"/></g>
<path d="M753.2,353.6 L755.3,351 L757.4,353.6 Z" fill="#444"/>
<rect x="753.2" y="354.2" width="4.2" height="1" fill="#444"/>
<path d="M755.3,351.6 L766.7,336.8 L792.2,382.2" fill="none" stroke="#86abf7" stroke-width="3" stroke-dasharray="7 3.2"/>
<path d="M786.8,378.4 L793.8,385.4 L794.6,375.6" fill="none" stroke="#86abf7" stroke-width="3" stroke-linejoin="miter"/>
<path d="M760.1,357.8 L772.2,382.6" fill="none" stroke="#86abf7" stroke-width="3" stroke-dasharray="7 3.2"/>
<path d="M766.6,379.2 L773.4,386 L774.6,376.2" fill="none" stroke="#86abf7" stroke-width="3" stroke-linejoin="miter"/>
<text x="634.8" y="172.1" font-size="8.4" fill="#aeb1b9" textLength="9" lengthAdjust="spacingAndGlyphs">R2</text>
<text x="634.8" y="255.4" font-size="8.4" fill="#aeb1b9" textLength="9" lengthAdjust="spacingAndGlyphs">R1</text>
<text x="634.8" y="413.3" font-size="8.4" fill="#aeb1b9" textLength="9" lengthAdjust="spacingAndGlyphs">S1</text>
<text x="638.8" y="329.8" font-size="8.4" fill="#a2a5ad" text-anchor="end">P</text>
<text x="844.2" y="26" font-size="7.7" fill="#2343a6" text-anchor="end" textLength="45.6" lengthAdjust="spacingAndGlyphs">All-time high</text>
</g>
<text x="14.6" y="18.3" font-size="10" fill="#5a5a5a" textLength="148.8" lengthAdjust="spacingAndGlyphs">Gold Spot / U.S. Dollar, 1D, FX_IDC</text>
<text x="14.6" y="30.5" font-size="10" fill="#5a5a5a" textLength="24.5" lengthAdjust="spacingAndGlyphs">Pivots</text>
<text x="14.6" y="45" font-size="9.8" fill="#5a5a5a" textLength="17.5" lengthAdjust="spacingAndGlyphs">EMA</text>
<text x="38.1" y="45" font-size="9.8" fill="#43a047" textLength="32.4" lengthAdjust="spacingAndGlyphs">1853.80</text>
<line x1="849.5" y1="3" x2="849.5" y2="489" stroke="#1e1e22" stroke-width="1.1"/>
<line x1="8" y1="467" x2="895" y2="467" stroke="#7b7b7e" stroke-width="1.8"/>
<text x="887.5" y="26.772000000000002" font-size="8.5" fill="#5e5e5e" text-anchor="end">2080.00</text>
<text x="887.5" y="52.504000000000005" font-size="8.5" fill="#5e5e5e" text-anchor="end">2060.00</text>
<text x="887.5" y="78.236" font-size="8.5" fill="#5e5e5e" text-anchor="end">2040.00</text>
<text x="887.5" y="103.968" font-size="8.5" fill="#5e5e5e" text-anchor="end">2020.00</text>
<text x="887.5" y="155.432" font-size="8.5" fill="#5e5e5e" text-anchor="end">1980.00</text>
<text x="887.5" y="181.164" font-size="8.5" fill="#5e5e5e" text-anchor="end">1960.00</text>
<text x="887.5" y="206.896" font-size="8.5" fill="#5e5e5e" text-anchor="end">1940.00</text>
<text x="887.5" y="335.556" font-size="8.5" fill="#5e5e5e" text-anchor="end">1840.00</text>
<text x="887.5" y="438.484" font-size="8.5" fill="#5e5e5e" text-anchor="end">1760.00</text>
<text x="887.5" y="464.21599999999995" font-size="8.5" fill="#5e5e5e" text-anchor="end">1740.00</text>
<rect x="848.5" y="346" width="43.5" height="14" fill="#fff"/>
<text x="887.5" y="356.6" font-size="8.5" fill="#333" text-anchor="end">1823.73</text>
<line x1="859" y1="360" x2="887" y2="360" stroke="#bbb" stroke-width="1" stroke-dasharray="2 2"/>
<path d="M849.5,24 H889.9 Q891.9,24 891.9,26 V35 Q891.9,37 889.9,37 H849.5 Z" fill="#0d3497"/>
<text x="887.6" y="33.6" font-size="8.6" font-weight="bold" fill="#fff" text-anchor="end">2075.14</text>
<path d="M849.5,119.7 H889.9 Q891.9,119.7 891.9,121.7 V130.6 Q891.9,132.6 889.9,132.6 H849.5 Z" fill="#0d3497"/>
<text x="887.6" y="129.3" font-size="8.6" font-weight="bold" fill="#fff" text-anchor="end">2000.00</text>
<path d="M849.5,222.9 H889.9 Q891.9,222.9 891.9,224.9 V233.8 Q891.9,235.8 889.9,235.8 H849.5 Z" fill="#0d3497"/>
<text x="887.6" y="232.5" font-size="8.6" font-weight="bold" fill="#fff" text-anchor="end">1920.00</text>
<path d="M849.5,249 H889.9 Q891.9,249 891.9,251 V260 Q891.9,262 889.9,262 H849.5 Z" fill="#0d3497"/>
<text x="887.6" y="258.6" font-size="8.6" font-weight="bold" fill="#fff" text-anchor="end">1900.00</text>
<path d="M849.5,274.5 H889.9 Q891.9,274.5 891.9,276.5 V285 Q891.9,287 889.9,287 H849.5 Z" fill="#0d3497"/>
<text x="887.6" y="283.90000000000003" font-size="8.6" font-weight="bold" fill="#fff" text-anchor="end">1880.00</text>
<path d="M849.5,304 H889.9 Q891.9,304 891.9,306 V326.4 Q891.9,328.4 889.9,328.4 H849.5 Z" fill="#0d3497"/>
<text x="887.6" y="313.70000000000005" font-size="8.6" font-weight="bold" fill="#fff" text-anchor="end">1850.00</text>
<text x="887.6" y="325.70000000000005" font-size="8.6" font-weight="bold" fill="#fff" text-anchor="end">1847.88</text>
<path d="M849.5,377.3 H889.9 Q891.9,377.3 891.9,379.3 V388.2 Q891.9,390.2 889.9,390.2 H849.5 Z" fill="#03aa42"/>
<text x="887.6" y="386.90000000000003" font-size="8.6" font-weight="bold" fill="#fff" text-anchor="end">1800.00</text>
<path d="M849.5,394 H889.9 Q891.9,394 891.9,396 V416.9 Q891.9,418.9 889.9,418.9 H849.5 Z" fill="#03aa42"/>
<text x="887.6" y="403.5" font-size="8.6" font-weight="bold" fill="#fff" text-anchor="end">1787.03</text>
<text x="887.6" y="415.5" font-size="8.6" font-weight="bold" fill="#fff" text-anchor="end">1782.71</text>
<text x="32.8" y="480.0" font-size="8.6" fill="#555" text-anchor="middle">17</text>
<text x="102" y="480.0" font-size="8.6" fill="#555" text-anchor="middle">Feb</text>
<text x="165.5" y="480.0" font-size="8.6" fill="#555" text-anchor="middle">15</text>
<text x="228.8" y="480.0" font-size="8.6" fill="#555" text-anchor="middle">Mar</text>
<text x="292.1" y="480.0" font-size="8.6" fill="#555" text-anchor="middle">15</text>
<text x="375" y="480.0" font-size="8.6" fill="#555" text-anchor="middle">Apr</text>
<text x="444.5" y="480.0" font-size="8.6" fill="#555" text-anchor="middle">18</text>
<text x="507.9" y="480.0" font-size="8.6" fill="#555" text-anchor="middle">May</text>
<text x="571.2" y="480.0" font-size="8.6" fill="#555" text-anchor="middle">16</text>
<text x="647" y="480.0" font-size="8.6" fill="#555" text-anchor="middle">Jun</text>
<text x="710.7" y="480.0" font-size="8.6" fill="#555" text-anchor="middle">15</text>
<circle cx="769" cy="446.4" r="22.6" fill="url(#rg)"/>
<path d="M757.2,463.5 C756.92,464.00 758.18,464.30 760,464.3 C761.82,464.30 765.53,464.03 768.1,463.5 C770.67,462.97 773.38,462.18 775.4,461.1 C777.42,460.02 778.98,458.62 780.2,457 C781.42,455.38 782.23,453.27 782.7,451.4 C783.17,449.53 783.42,447.55 783,445.8 C782.58,444.05 781.33,442.25 780.2,440.9 C779.07,439.55 777.40,438.77 776.2,437.7 C775.00,436.63 774.35,435.28 773,434.5 C771.65,433.72 769.85,433.00 768.1,433 C766.35,433.00 763.77,433.75 762.5,434.5 C761.23,435.25 761.33,436.58 760.5,437.5 C759.67,438.42 758.25,438.48 757.5,440 C756.75,441.52 755.98,444.70 756,446.6 C756.02,448.50 756.65,450.20 757.6,451.4 C758.55,452.60 760.22,453.40 761.7,453.8 C763.18,454.20 765.18,454.13 766.5,453.8 C767.82,453.47 768.95,452.60 769.6,451.8 C770.25,451.00 770.53,449.77 770.4,449 C770.27,448.23 769.52,447.63 768.8,447.2 C768.08,446.77 766.47,446.83 766.1,446.4 C765.73,445.97 765.92,445.07 766.6,444.6 C767.28,444.13 769.17,443.43 770.2,443.6 C771.23,443.77 772.23,444.57 772.8,445.6 C773.37,446.63 773.77,448.40 773.6,449.8 C773.43,451.20 772.72,452.63 771.8,454 C770.88,455.37 769.78,456.78 768.1,458 C766.42,459.22 763.52,460.38 761.7,461.3 C759.88,462.22 757.48,463.00 757.2,463.5Z" fill="url(#yg)"/>
<g fill="#a9a9a9"><path d="M797.8,432.8 L802.2,434.2 V449.2 L797.8,450.4 Z"/><rect x="801" y="434" width="18.5" height="2.4"/><rect x="801" y="445.7" width="18.5" height="2"/><path d="M818,434 L820.5,432.8 L822.4,434.8 V449.2 L818,450 Z"/><path d="M807.9,427.6 L812.7,428.6 V456.2 L807.9,457.2 Z"/></g>
<g fill="#a9a9a9"><path d="M839,428.2 L846.2,430.2 C842,436 836,442 826.2,445.6 C831,440.5 835.5,434.5 839,428.2 Z"/><path d="M843.5,431.5 C847,435 852,437.8 858.6,439.5 C856.5,442 854,443.3 852,443.5 C848.5,440 845.5,436.5 843.5,431.5 Z"/><rect x="837.2" y="439.6" width="10" height="1.4"/><rect x="830" y="445.7" width="25" height="1.6"/><rect x="839.2" y="440.5" width="5.4" height="15"/><path d="M831.2,447.8 C834.5,448.8 837.5,450.5 837.4,453 C836,454.5 834,454 831.2,447.8 Z"/><path d="M854.3,448.2 L848,454.6 L851.5,454.8 Z"/><path d="M828,455 H856.8 V456.8 H828 Z M851.5,455 L854,452.8 L856.8,455 Z"/></g>
<g fill="#a9a9a9"><path d="M862.8,428.4 L867.6,430 V455.6 L862.8,457 Z"/><rect x="867" y="430.2" width="17" height="2"/><path d="M882.6,430.2 L885.5,428.6 L888.4,431 V452 C888,455 886,456.6 882.6,457 C881.8,454.5 880,452.8 877.5,451.8 L882.6,451.8 Z"/></g>
<g fill="none" stroke="#a9a9a9" stroke-width="3.4" stroke-linecap="butt"><path d="M869.8,435.5 L875.8,452 M876.2,436 L869.2,452.5 M876.8,435.5 L882.4,450.5 M882.4,436 L875.2,453"/></g>
<text x="798.5" y="468.5" font-size="10.6" fill="#c2c2c2" textLength="88.7" lengthAdjust="spacingAndGlyphs">CNGOLD.COM</text>
<text x="781" y="479.8" font-size="8.4" font-weight="bold" fill="#505050" textLength="9.2" lengthAdjust="spacingAndGlyphs">Ju</text>
<g fill="none" stroke="#ababab" stroke-width="1.1" stroke-linecap="square">
<path d="M750.5,475.5 H759.5 V480.5 H750.5 Z M755,473 V483"/>
<path d="M775.3,472.8 V474.5 M770,475.2 H780.5 M772.5,475.5 C774,479 776.5,481.5 780.5,482.5 M778,475.5 C776.5,479 774,481.5 770,482.5"/>
<path d="M790.5,474 H794.5 V480 H790.5 Z M790.5,477 H794.5 M791.5,480 L790.3,482.5 M793.5,480 L795,482.5 M795.8,476 H801.5 M799.5,473 V482.5 L798.5,482 M799.3,476.5 L796,481"/>
<path d="M813.5,473 L811.5,476.5 L814,476.8 L811.2,480 L814.5,479.5 M811.2,482.5 L814.8,481.5 M816,474 H821.5 C820.5,476 818.5,477.5 815.8,478.5 M817.5,475.5 C819,477 820.5,478 822.3,478.3 M816.8,480 H821.5 M819.2,480 V482.5 M815.8,482.5 H822.5"/>
<path d="M834,473 V474.2 M831.5,474.8 H836.5 M832.5,475.5 L833,477 M835.5,475.5 L835,477 M831.3,477.5 H836.8 M831.5,479.5 H836.5 M834,477.5 V483 M833.5,479.8 L831.3,482 M834.5,479.8 L836.5,481.5 M842.5,473.2 L838.5,474.5 V483 M838.5,477.5 H843.5 M841.5,477.5 V483"/>
<path d="M853.5,473 C853,477 852.5,479.5 851.5,482.5 M851.5,476 H856 C855.5,479.5 854.5,481.5 852,483 M852.8,479 L856,482 M857.5,474.5 H864 M859,473 V477.5 M862.5,473 V477.5 M859,476 H862.5 M859,477.5 H862.5 M857.5,479.3 H864 M860.8,477.5 V483 M860.5,479.8 L857.5,482.5 M861,479.8 L864,482.5"/>
<path d="M875.5,472.8 C874.5,475.5 873.5,477.5 872.5,478.5 M874.3,476 V483 M876.8,476 H884.5 M880.6,473 V483 M880.3,476.5 C879,479 878,480.5 876.5,481.5 M881,476.5 C882,479 883,480.5 884.8,481.5 M878.5,480.5 H882.8"/>
</g>
<line x1="8" y1="467" x2="895" y2="467" stroke="#7b7b7e" stroke-width="1.8"/>
<line x1="849.5" y1="3" x2="849.5" y2="346" stroke="#1e1e22" stroke-width="1.1"/>
<line x1="849.5" y1="360" x2="849.5" y2="489" stroke="#1e1e22" stroke-width="1.1"/>
</svg></body></html>
